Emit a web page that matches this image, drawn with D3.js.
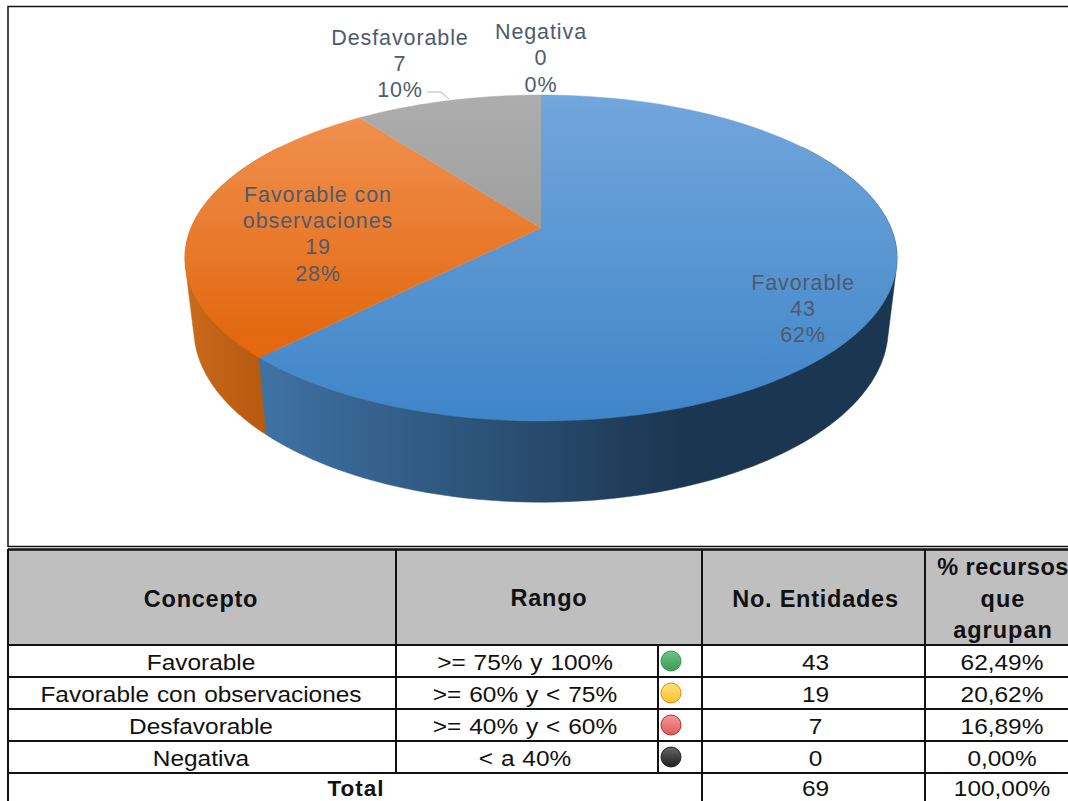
<!DOCTYPE html>
<html><head><meta charset="utf-8">
<script src="https://cdn.jsdelivr.net/npm/d3@7/dist/d3.min.js"></script>
<style>html,body{margin:0;padding:0;background:#fff;overflow:hidden}svg{display:block}text{font-family:"Liberation Sans",Arial,sans-serif}</style>
</head><body><svg id="c" width="1068" height="801"></svg>
<script>
const categories=["Favorable","Favorable con observaciones","Desfavorable","Negativa"];
const entidades=[43,19,7,0];
const pieLabels=["62%","28%","10%","0%"];
const recursos=["62,49%","20,62%","16,89%","0,00%"];
const rangos=[">= 75% y 100%",">= 60% y < 75%",">= 40% y < 60%","< a 40%"];
const total=["Total","69","100,00%"];
const headers=["Concepto","Rango","No. Entidades"];
const header4=["% recursos","que","agrupan"];
const lampTop=["#6cc487","#ffe27a","#f59a9a","#666666"];
const lampBottom=["#3d9a58","#f9c22e","#e25a5a","#1e1e1e"];
const lampStroke=["#3f8f55","#e08a10","#b03030","#222222"];
const topA=["#72a6dc","#f0904f","#adadad","#adadad"];
const topB=["#3f85c8","#e3680f","#8a8a8a","#8a8a8a"];
const wallA=["#3f72a4","#c96a1c","#888","#888"];
const wallB=["#1b3650","#b5590f","#777","#777"];

const svg=d3.select("#c"),defs=svg.append("defs");
const cx=541,cy=228,R=350,S=157.5,k=-0.184;
// perspective projection of the unit disc
const proj=a=>{const u=Math.sin(a),v=-Math.cos(a),w=1+k*v;return [cx+R*u/w,cy+S*v/w];};
const low=p=>[cx+(p[0]-cx)*0.975,cy+(p[1]-cy)*1.063+69];
const arcs=d3.pie().sort(null).value(d=>d)(entidades);
const line=d3.line();
const samples=(s,e)=>d3.range(0,121).map(i=>s+(e-s)*i/120);

function grad(id,a,b,attrs){const g=defs.append("linearGradient").attr("id",id).attr("gradientUnits","userSpaceOnUse");
 Object.entries(attrs).forEach(([n,v])=>g.attr(n,v));
 g.append("stop").attr("offset",0).attr("stop-color",a);g.append("stop").attr("offset",1).attr("stop-color",b);}
arcs.forEach((d,i)=>{
 grad("t"+i,topA[i],topB[i],i==1?{x1:0,x2:0,y1:118,y2:340}:{x1:0,x2:0,y1:95,y2:421});
 if(i==0)grad("w0",wallA[0],wallB[0],{x1:262,x2:680,y1:0,y2:0});
 else grad("w"+i,wallA[i],wallB[i],{x1:186,x2:268,y1:0,y2:0});});

// chart frame
svg.append("rect").attr("x",8).attr("y",6.5).attr("width",1080).attr("height",540).attr("fill","#fff").attr("stroke","#111").attr("stroke-width",1.5);

// walls: hull of the upper and lower rim over the visible part of each slice (drawn back to front)
const wallG=svg.append("g");
arcs.slice().reverse().forEach(d=>{
 const i=d.index,s=Math.max(d.startAngle,Math.PI/2-0.6),e=Math.min(d.endAngle,3*Math.PI/2+0.6);
 if(e<=s)return;
 const up=samples(s,e).map(proj),dn=up.map(low);
 wallG.append("path").attr("d",line(d3.polygonHull(up.concat(dn)))+"Z").attr("fill",`url(#w${i})`).attr("stroke",`url(#w${i})`).attr("stroke-width",.5);
});
// top faces
const topG=svg.append("g");
arcs.forEach((d,i)=>{
 if(d.endAngle<=d.startAngle)return;
 topG.append("path").attr("d",line([[cx,cy]].concat(samples(d.startAngle,d.endAngle).map(proj)))+"Z").attr("fill",`url(#t${i})`).attr("stroke",`url(#t${i})`).attr("stroke-width",.4);
});

// data labels
const labelColor="#4e5b6e";
const anchors=[[803,289.5],[318,201.5],[400,44.5],[541,39]];
const nameLines=[["Favorable"],["Favorable con","observaciones"],["Desfavorable"],["Negativa"]];
const lab=svg.append("g").attr("fill",labelColor).attr("font-size",21.5).attr("text-anchor","middle").attr("letter-spacing",.9);
categories.forEach((c,i)=>{
 const rows=nameLines[i].concat([String(entidades[i]),pieLabels[i]]);
 lab.selectAll(null).data(rows).enter().append("text").attr("x",anchors[i][0]).attr("y",(r,j)=>anchors[i][1]+j*26.4).text(r=>r);
});
svg.append("path").attr("d",line([[427,92],[441,92],[449,99]])).attr("fill","none").attr("stroke","#a9b4c4").attr("stroke-width",1);

// table
const colX=[8,396,702,925,1090],rangeSplit=658,lampX=671;
const headTop=549,headBottom=645;
const y=d3.scaleBand().domain([...categories,"Total"]).range([645,805]);
const T=svg.append("g");
T.append("rect").attr("x",colX[0]).attr("y",headTop).attr("width",1070).attr("height",headBottom-headTop).attr("fill","#bfbfbf");
const center=[(colX[0]+colX[1])/2-1,(colX[1]+colX[2])/2,(colX[2]+colX[3])/2+2,1002];
const rCenter=(colX[1]+rangeSplit)/2-2;
const bodyG=T.append("g").attr("font-size",22).attr("text-anchor","middle").attr("fill","#111");
// body text is drawn slightly wider than tall, as in the picture
const cell=(px,py,t)=>bodyG.append("text").attr("transform",`translate(${px},${py}) scale(1.11,1)`).attr("word-spacing",1).text(t);
categories.forEach((c,i)=>{
 const b=y(c)+y.bandwidth()/2+9;
 cell(center[0],b,c);cell(rCenter,b,rangos[i]);cell(center[2],b,String(entidades[i]));cell(center[3],b,recursos[i]);
 const id="l"+i,g=defs.append("linearGradient").attr("id",id).attr("x1",0).attr("x2",0).attr("y1",0).attr("y2",1);
 g.append("stop").attr("offset",0).attr("stop-color",lampTop[i]);g.append("stop").attr("offset",1).attr("stop-color",lampBottom[i]);
 T.append("circle").attr("cx",lampX).attr("cy",y(c)+y.bandwidth()/2).attr("r",10).attr("fill",`url(#${id})`).attr("stroke",lampStroke[i]).attr("stroke-width",1);
});
const tb=y("Total")+y.bandwidth()/2+7;
T.append("text").attr("x",356).attr("y",tb).attr("text-anchor","middle").attr("font-size",22.5).attr("font-weight","bold").attr("letter-spacing",1).attr("fill","#111").text(total[0]);
cell(center[2],tb+.4,total[1]);
cell(center[3],tb+.4,total[2]);
const hd=T.append("g").attr("font-size",23.5).attr("font-weight","bold").attr("text-anchor","middle").attr("fill","#111").attr("letter-spacing",.75);
headers.forEach((h,i)=>hd.append("text").attr("x",center[i]).attr("y",607-(i==1?1:0)).text(h));
hd.selectAll(null).data(header4).enter().append("text").attr("x",1003).attr("y",(h,i)=>575+i*31.5).attr("letter-spacing",(h,i)=>i==0?.5:1).text(h=>h);

const rule=(x1,y1,x2,y2,w)=>T.append("line").attr("x1",x1).attr("y1",y1).attr("x2",x2).attr("y2",y2).attr("stroke","#111").attr("stroke-width",w||2);
rule(8,549.5,1068,549.5,2.5);
[645,...categories.map(c=>y(c)+y.bandwidth())].forEach(v=>rule(8,v,1068,v,2));
rule(8,549,8,801);rule(colX[2],549,colX[2],801);rule(colX[3],549,colX[3],801);
rule(colX[1],549,colX[1],y("Total"));rule(rangeSplit,645,rangeSplit,y("Total"));
</script></body></html>
